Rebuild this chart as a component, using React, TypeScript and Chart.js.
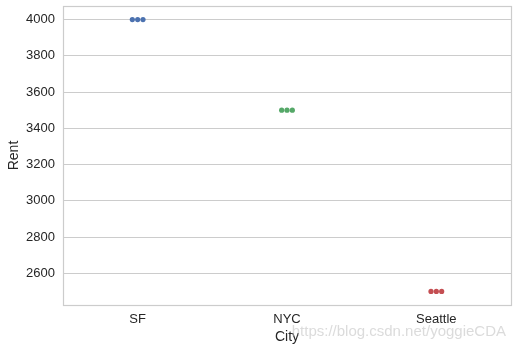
import React, { useEffect, useRef } from "react";
import { Chart, registerables } from "chart.js";

Chart.register(...registerables);

// Categories and the rent observed in each city
const cities = ["SF", "NYC", "Seattle"];
const sfRent = [4000, 4000, 4000];
const nycRent = [3500, 3500, 3500];
const seattleRent = [2500, 2500, 2500];
const rentTicks = [2600, 2800, 3000, 3200, 3400, 3600, 3800, 4000];

const palette = ["#4C72B0", "#55A868", "#C44E52"];
const textColor = "#262626";
const gridColor = "#cccccc";
const fontFamily = "'Liberation Sans', Arial, sans-serif";

// Spread points with equal values side by side, like a beeswarm
const swarmPlugin = {
  id: "swarm",
  afterDatasetsUpdate(chart: any) {
    chart.data.datasets.forEach((ds: any, i: number) => {
      const meta = chart.getDatasetMeta(i);
      const groups: Record<string, any[]> = {};
      meta.data.forEach((pt: any, j: number) => {
        const key = String(ds.data[j].x) + "|" + String(ds.data[j].y);
        (groups[key] = groups[key] || []).push(pt);
      });
      const r = ds.pointRadius as number;
      const step = r * 2.05;
      Object.values(groups).forEach((pts) => {
        const n = pts.length;
        pts.forEach((pt, k) => {
          pt.x = pt.x + (k - (n - 1) / 2) * step;
        });
      });
    });
  },
};

// Full box around the plotting area
const framePlugin = {
  id: "frame",
  beforeDatasetsDraw(chart: any) {
    const { ctx, chartArea } = chart;
    const { left, top, right, bottom } = chartArea;
    ctx.save();
    ctx.strokeStyle = gridColor;
    ctx.lineWidth = 1.2;
    ctx.strokeRect(left + 0.5, top + 0.5, right - left, bottom - top);
    ctx.restore();
  },
};

// Source credit in the lower right corner
const creditPlugin = {
  id: "credit",
  afterDraw(chart: any) {
    const { ctx } = chart;
    ctx.save();
    ctx.font = `15px ${fontFamily}`;
    ctx.fillStyle = "rgba(190,190,190,0.55)";
    ctx.textAlign = "right";
    ctx.textBaseline = "middle";
    ctx.fillText("https://blog.csdn.net/yoggieCDA", 506, 332);
    ctx.restore();
  },
};

export default function App() {
  const canvasRef = useRef<HTMLCanvasElement | null>(null);

  useEffect(() => {
    document.body.style.margin = "0";
    const canvas = canvasRef.current;
    if (!canvas) return;
    const series = [sfRent, nycRent, seattleRent];
    const chart = new Chart(canvas, {
      type: "scatter",
      data: {
        labels: cities,
        datasets: series.map((vals, i) => ({
          label: cities[i],
          data: vals.map((v) => ({ x: cities[i], y: v })),
          backgroundColor: palette[i],
          borderColor: palette[i],
          borderWidth: 0,
          pointRadius: 2.6,
          pointHoverRadius: 2.6,
        })),
      },
      options: {
        animation: false,
        responsive: false,
        maintainAspectRatio: false,
        layout: { padding: { top: 6, right: 5, left: 0, bottom: 0 } },
        plugins: {
          legend: { display: false },
          tooltip: { enabled: false },
        },
        scales: {
          x: {
            type: "category",
            labels: cities,
            offset: true,
            grid: { display: false, drawTicks: false },
            border: { display: false },
            ticks: {
              color: textColor,
              padding: 7,
              font: { family: fontFamily, size: 13 },
            },
            title: {
              display: true,
              text: "City",
              color: textColor,
              padding: { top: 0, bottom: 6 },
              font: { family: fontFamily, size: 14 },
            },
            afterFit(scale: any) {
              scale.height = 47;
              scale.paddingLeft = 0;
              scale.paddingRight = 0;
            },
          },
          y: {
            type: "linear",
            min: 2425,
            max: 4075,
            grid: { color: gridColor, lineWidth: 1, drawTicks: false },
            border: { display: false },
            ticks: {
              color: textColor,
              padding: 8,
              font: { family: fontFamily, size: 13 },
              callback: (v: any) => String(v),
            },
            afterBuildTicks(scale: any) {
              scale.ticks = rentTicks.map((v) => ({ value: v }));
            },
            title: {
              display: true,
              text: "Rent",
              color: textColor,
              padding: { top: 5.6, bottom: 0 },
              font: { family: fontFamily, size: 14 },
            },
            afterFit(scale: any) {
              scale.width = 63;
              scale.paddingTop = 0;
              scale.paddingBottom = 0;
            },
          },
        },
      },
      plugins: [swarmPlugin, framePlugin, creditPlugin],
    });
    return () => chart.destroy();
  }, []);

  return (
    <div style={{ position: "absolute", left: 0, top: 0, width: 516, height: 352, background: "#ffffff" }}>
      <canvas ref={canvasRef} width={516} height={352} style={{ display: "block", width: 516, height: 352 }} />
    </div>
  );
}
